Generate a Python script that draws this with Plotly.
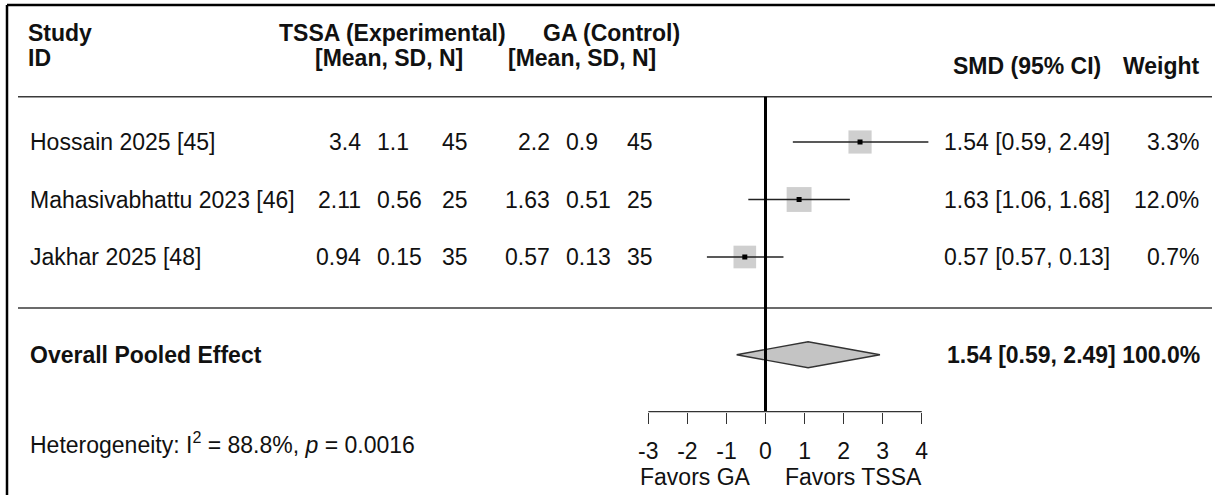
import plotly.graph_objects as go

# ---------------- data ----------------
studies = ["Hossain 2025 [45]", "Mahasivabhattu 2023 [46]", "Jakhar 2025 [48]"]
tssa_mean = ["3.4", "2.11", "0.94"]
tssa_sd = ["1.1", "0.56", "0.15"]
tssa_n = [45, 25, 35]
ga_mean = ["2.2", "1.63", "0.57"]
ga_sd = ["0.9", "0.51", "0.13"]
ga_n = [45, 25, 35]

# printed SMD / CI / weight
smd_txt = [1.54, 1.63, 0.57]
ci_lo_txt = [0.59, 1.06, 0.57]
ci_hi_txt = [2.49, 1.68, 0.13]
weights = [3.3, 12.0, 0.7]

# plotted positions (as drawn in the chart)
plot_est = [2.42, 0.86, -0.53]
plot_lo = [0.70, -0.44, -1.50]
plot_hi = [4.17, 2.16, 0.46]

pooled_plot = [-0.74, 1.09, 2.93]     # lower, estimate, upper (drawn)
pooled_txt = [1.54, 0.59, 2.49]        # printed
pooled_weight = 100.0

ticks = [-3, -2, -1, 0, 1, 2, 3, 4]
heterogeneity_i2 = 88.8
heterogeneity_p = "0.0016"

# ---------------- layout helpers ----------------
W, H = 1215, 495
FONT = "Liberation Sans, Arial, Helvetica, sans-serif"
FS = 23
TXT = "#111111"

X0_PX, UNIT = 765.5, 39.06          # pixel of 0 and px per unit
xr = [-X0_PX / UNIT, (W - X0_PX) / UNIT]
ROW0_PX, ROW_STEP = 142, 57.5
yr = [(H - ROW0_PX) / ROW_STEP, -ROW0_PX / ROW_STEP]


def px(x):
    return x / W


def py(y):
    return 1 - y / H


rows = list(range(len(studies)))
pooled_row = len(studies) + 0.7
diamond_half = 13 / ROW_STEP

fig = go.Figure()

# study boxes
box_sizes = [22.5 + 0.2 * w for w in weights]
fig.add_trace(go.Scatter(
    x=plot_est, y=rows, mode="markers",
    marker=dict(symbol="square", size=box_sizes, color="#bbbbbb", line=dict(width=0)),
    hoverinfo="skip", showlegend=False))

# CI lines
ci_x, ci_y = [], []
for lo, hi, r in zip(plot_lo, plot_hi, rows):
    ci_x += [lo, hi, None]
    ci_y += [r, r, None]
fig.add_trace(go.Scatter(x=ci_x, y=ci_y, mode="lines",
                         line=dict(color="#222222", width=1.5),
                         hoverinfo="skip", showlegend=False))

# centre points
fig.add_trace(go.Scatter(
    x=plot_est, y=rows, mode="markers",
    marker=dict(symbol="square", size=5, color="black", line=dict(width=0)),
    hoverinfo="skip", showlegend=False))

# pooled diamond
lo, est, hi = pooled_plot
fig.add_trace(go.Scatter(
    x=[lo, est, hi, est, lo],
    y=[pooled_row, pooled_row - diamond_half, pooled_row, pooled_row + diamond_half, pooled_row],
    mode="lines", fill="toself", fillcolor="#c4c4c4",
    line=dict(color="#333333", width=1.3),
    hoverinfo="skip", showlegend=False))

ann = []


def add(text, x, y, xanchor="left", bold=False, yref="paper", size=FS):
    if bold:
        text = "<b>" + text + "</b>"
    ann.append(dict(text=text, x=x, y=y, xref="paper", yref=yref,
                    xanchor=xanchor, yanchor="middle", showarrow=False,
                    font=dict(family=FONT, size=size, color=TXT)))


# header
HDR1, HDR2 = 33, 58
add("Study", px(26), py(HDR1), bold=True)
add("ID", px(26), py(HDR2), bold=True)
add("TSSA (Experimental)", px(277), py(HDR1), bold=True)
add("GA (Control)", px(541), py(HDR1), bold=True)
add("[Mean, SD, N]", px(465), py(HDR2), xanchor="right", bold=True)
add("[Mean, SD, N]", px(506), py(HDR2), bold=True)
add("SMD (95% CI)", px(1103), py(66), xanchor="right", bold=True)
add("Weight", px(1202), py(66), xanchor="right", bold=True)

# study rows
for i, r in enumerate(rows):
    add(studies[i], px(28), r, yref="y")
    add(tssa_mean[i], px(363), r, xanchor="right", yref="y")
    add(tssa_sd[i], px(375), r, yref="y")
    add(str(tssa_n[i]), px(440), r, yref="y")
    add(ga_mean[i], px(552), r, xanchor="right", yref="y")
    add(ga_sd[i], px(564), r, yref="y")
    add(str(ga_n[i]), px(625), r, yref="y")
    add(f"{smd_txt[i]:.2f} [{ci_lo_txt[i]:.2f}, {ci_hi_txt[i]:.2f}]", px(942), r, yref="y")
    add(f"{weights[i]:.1f}%", px(1201), r, xanchor="right", yref="y")

# pooled row
add("Overall Pooled Effect", px(28), pooled_row, yref="y", bold=True)
add(f"{pooled_txt[0]:.2f} [{pooled_txt[1]:.2f}, {pooled_txt[2]:.2f}] {pooled_weight:.1f}%",
    px(1202), pooled_row, xanchor="right", yref="y", bold=True)

# heterogeneity
add(f"Heterogeneity: I<sup>2</sup> = {heterogeneity_i2}%, <i>p</i> = {heterogeneity_p}",
    px(28), py(443))

# favours labels
ann.append(dict(text="Favors GA", x=-0.33, y=py(477), xref="x", yref="paper",
                xanchor="right", yanchor="middle", showarrow=False,
                font=dict(family=FONT, size=FS, color=TXT)))
ann.append(dict(text="Favors TSSA", x=0.45, y=py(477), xref="x", yref="paper",
                xanchor="left", yanchor="middle", showarrow=False,
                font=dict(family=FONT, size=FS, color=TXT)))

AXIS_Y = 411.7
shapes = [
    # outer frame (left + top)
    dict(type="line", xref="paper", yref="paper", x0=px(7), x1=px(7), y0=py(5), y1=0,
         line=dict(color="black", width=2.5)),
    dict(type="line", xref="paper", yref="paper", x0=px(7), x1=1, y0=py(5), y1=py(5),
         line=dict(color="black", width=2.5)),
    # separators
    dict(type="line", xref="paper", yref="paper", x0=px(18), x1=px(1212), y0=py(96.7), y1=py(96.7),
         line=dict(color="#3a3a3a", width=1.6)),
    dict(type="line", xref="paper", yref="paper", x0=px(18), x1=px(1212), y0=py(308), y1=py(308),
         line=dict(color="#3a3a3a", width=1.6)),
    # null line
    dict(type="line", xref="x", yref="paper", x0=0, x1=0, y0=py(96.7), y1=py(AXIS_Y),
         line=dict(color="black", width=3)),
    # axis baseline
    dict(type="line", xref="x", yref="paper", x0=ticks[0], x1=ticks[-1], y0=py(AXIS_Y), y1=py(AXIS_Y),
         line=dict(color="#333333", width=1.3)),
]

fig.update_layout(
    width=W, height=H, margin=dict(l=0, r=0, t=0, b=0),
    paper_bgcolor="white", plot_bgcolor="rgba(0,0,0,0)",
    annotations=ann, shapes=shapes, showlegend=False,
    font=dict(family=FONT, size=FS, color=TXT),
    xaxis=dict(range=xr, domain=[0, 1], anchor="free", position=py(AXIS_Y),
               showline=False, showgrid=False, zeroline=False,
               tickmode="array", tickvals=ticks, ticktext=[str(t) for t in ticks],
               ticks="outside", ticklen=11, tickwidth=1.3, tickcolor="#333333",
               ticklabelstandoff=8,
               tickfont=dict(family=FONT, size=FS, color=TXT), fixedrange=True),
    yaxis=dict(range=yr, domain=[0, 1], visible=False, fixedrange=True),
)

fig.write_html("out.html", config={"displayModeBar": False, "staticPlot": True},
               post_script="document.body.style.margin='0';document.body.style.overflow='hidden';")
